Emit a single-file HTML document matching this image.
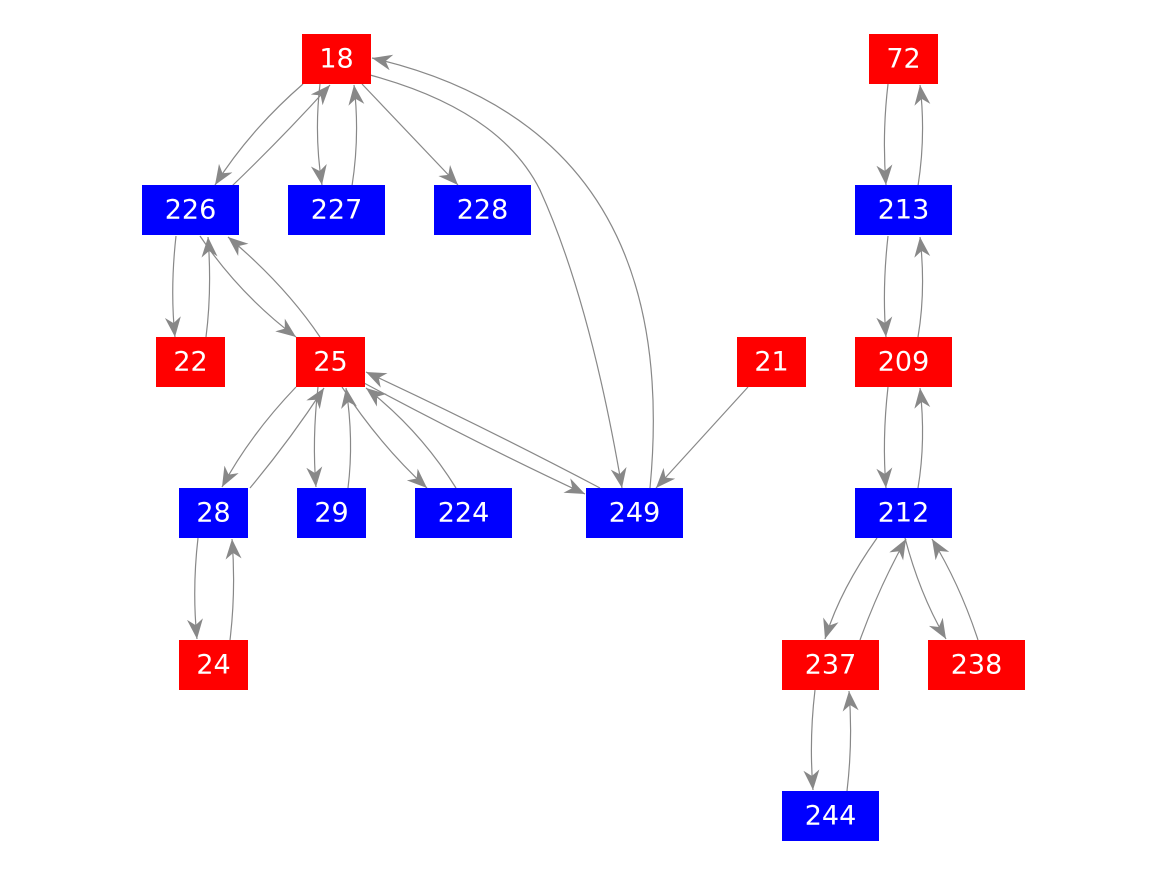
<!DOCTYPE html>
<html><head><meta charset="utf-8"><style>
body{margin:0;background:#fff}
svg{display:block}
text{font-family:"DejaVu Sans","Liberation Sans",sans-serif;font-size:27px;fill:#fff;text-anchor:middle;dominant-baseline:central}
path{fill:none;stroke:#888;stroke-width:1.2}
</style></head><body>
<svg width="1167" height="875" viewBox="0 0 1167 875">
<defs><marker id="a" markerUnits="userSpaceOnUse" markerWidth="24" markerHeight="18" refX="20" refY="8" orient="auto"><path d="M0,0 L20,8 L0,16 L6,8 Z" style="fill:#888;stroke:none"/></marker></defs>
<g marker-end="url(#a)">
<path d="M303,84 Q250,130 215,185"/>
<path d="M232,186 Q285,135 330,85"/>
<path d="M320,84 Q314,135 322,185"/>
<path d="M352,186 Q360,135 354,85"/>
<path d="M362,84 L458,185"/>
<path d="M370,75 Q500,110 540,190 Q590,300 622,488"/>
<path d="M650,488 C665,330 640,120 372,58"/>
<path d="M176,236 Q170,290 175,337"/>
<path d="M206,337 Q212,290 208,237"/>
<path d="M200,236 Q240,295 296,337"/>
<path d="M320,337 Q285,285 228,237"/>
<path d="M296,387 Q250,435 222,487"/>
<path d="M250,488 Q290,440 324,388"/>
<path d="M318,387 Q312,440 316,487"/>
<path d="M348,488 Q354,440 346,388"/>
<path d="M342,387 Q380,445 427,488"/>
<path d="M456,488 Q420,430 366,388"/>
<path d="M364,383 Q480,445 585,494"/>
<path d="M600,488 Q480,425 366,372"/>
<path d="M748,387 L656,488"/>
<path d="M888,84 Q882,135 886,185"/>
<path d="M918,186 Q926,135 920,85"/>
<path d="M888,236 Q882,290 886,337"/>
<path d="M918,337 Q926,290 920,237"/>
<path d="M888,387 Q882,440 886,488"/>
<path d="M918,488 Q926,440 920,388"/>
<path d="M877,538 Q840,590 825,639"/>
<path d="M860,640 Q880,585 906,539"/>
<path d="M905,538 Q920,595 946,639"/>
<path d="M978,640 Q960,585 932,539"/>
<path d="M198,538 Q192,590 197,639"/>
<path d="M230,640 Q236,590 232,539"/>
<path d="M815,690 Q809,740 813,790"/>
<path d="M847,791 Q853,740 849,691"/>
</g>
<g>
<rect x="302" y="34" width="69" height="50" fill="#f00"/><text x="336.5" y="59">18</text>
<rect x="869" y="34" width="69" height="50" fill="#f00"/><text x="903.5" y="59">72</text>
<rect x="142" y="185" width="97" height="50" fill="#00f"/><text x="190.5" y="210">226</text>
<rect x="288" y="185" width="97" height="50" fill="#00f"/><text x="336.5" y="210">227</text>
<rect x="434" y="185" width="97" height="50" fill="#00f"/><text x="482.5" y="210">228</text>
<rect x="855" y="185" width="97" height="50" fill="#00f"/><text x="903.5" y="210">213</text>
<rect x="156" y="337" width="69" height="50" fill="#f00"/><text x="190.5" y="362">22</text>
<rect x="296" y="337" width="69" height="50" fill="#f00"/><text x="330.5" y="362">25</text>
<rect x="737" y="337" width="69" height="50" fill="#f00"/><text x="771.5" y="362">21</text>
<rect x="855" y="337" width="97" height="50" fill="#f00"/><text x="903.5" y="362">209</text>
<rect x="179" y="488" width="69" height="50" fill="#00f"/><text x="213.5" y="513">28</text>
<rect x="297" y="488" width="69" height="50" fill="#00f"/><text x="331.5" y="513">29</text>
<rect x="415" y="488" width="97" height="50" fill="#00f"/><text x="463.5" y="513">224</text>
<rect x="586" y="488" width="97" height="50" fill="#00f"/><text x="634.5" y="513">249</text>
<rect x="855" y="488" width="97" height="50" fill="#00f"/><text x="903.5" y="513">212</text>
<rect x="179" y="640" width="69" height="50" fill="#f00"/><text x="213.5" y="665">24</text>
<rect x="782" y="640" width="97" height="50" fill="#f00"/><text x="830.5" y="665">237</text>
<rect x="928" y="640" width="97" height="50" fill="#f00"/><text x="976.5" y="665">238</text>
<rect x="782" y="791" width="97" height="50" fill="#00f"/><text x="830.5" y="816">244</text>
</g>
</svg>
</body></html>
